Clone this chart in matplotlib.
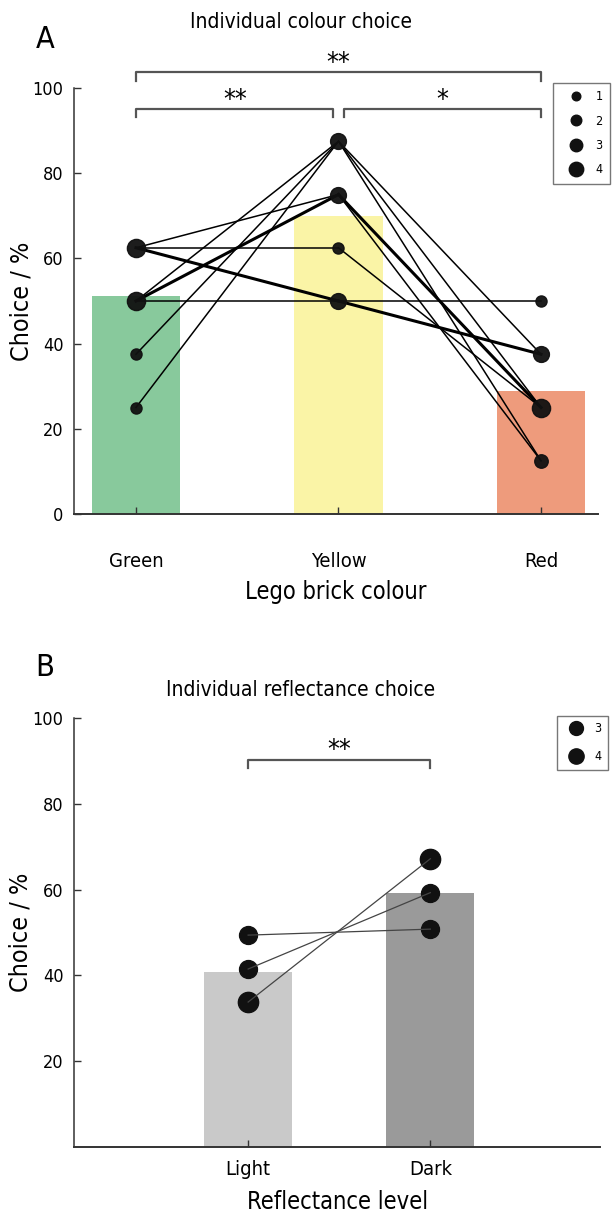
import numpy as np
import matplotlib
matplotlib.use('Agg')
import matplotlib.pyplot as plt
from matplotlib.lines import Line2D
from collections import Counter

plt.rcParams['font.family'] = ['DejaVu Sans']
plt.rcParams['font.stretch'] = 'condensed'

# ---- dados painel A (cada abelha: verde, amarelo, vermelho) ----
colours = ['Green', 'Yellow', 'Red']
bar_colours_a = ['#88c99c', '#faf4a6', '#ee9b7c']
mean_choice_a = [51.2, 70.0, 28.8]
bee_green = [62.5, 62.5, 62.5, 62.5, 50, 50, 50, 50, 37.5, 25]
bee_yellow = [75, 62.5, 50, 50, 87.5, 75, 75, 50, 87.5, 87.5]
bee_red = [25, 25, 37.5, 37.5, 12.5, 25, 12.5, 50, 37.5, 25]

# ---- dados painel B ----
levels = ['Light', 'Dark']
bar_colours_b = ['#c9c9c9', '#9a9a9a']
mean_choice_b = [40.8, 59.2]
group_light = [49.4, 41.5, 33.8]
group_dark = [50.8, 59.3, 67.2]
group_n = [3, 3, 4]


def msize(n):
    return 6.3 + 1.7 * n


fig = plt.figure(figsize=(6.14, 12.16), dpi=100)


def style_axes(ax):
    for s in ['top', 'right']:
        ax.spines[s].set_visible(False)
    ax.spines['left'].set_color('#333333')
    ax.spines['bottom'].set_color('#333333')
    ax.spines['left'].set_linewidth(1.1)
    ax.spines['bottom'].set_linewidth(1.4)
    ax.tick_params(direction='in', length=5, width=1, color='#333333')
    ax.tick_params(axis='y', labelsize=13, pad=7.5)
    ax.tick_params(axis='x', labelsize=14.5)


def bracket(ax, x0, x1, y, drop, text):
    ax.plot([x0, x0, x1, x1], [y - drop, y, y, y - drop], color='#555555', lw=1.6, clip_on=False)
    ax.text((x0 + x1) / 2, y - 1.0, text, ha='center', va='bottom', fontsize=19, clip_on=False)


# ================= Painel A =================
axA = fig.add_axes([0.1205, 0.5773, 0.853, 0.3503])
style_axes(axA)
xa = np.arange(1, 4)
axA.bar(xa, mean_choice_a, width=0.435, color=bar_colours_a, zorder=1)

seg_count = Counter()
pt_count = Counter()
for g, yv, r in zip(bee_green, bee_yellow, bee_red):
    seg_count[(1, g, 2, yv)] += 1
    seg_count[(2, yv, 3, r)] += 1
    pt_count[(1, g)] += 1
    pt_count[(2, yv)] += 1
    pt_count[(3, r)] += 1

for (x0, y0, x1, y1), n in seg_count.items():
    axA.plot([x0, x1], [y0, y1], color='black', lw=1.1 * n, zorder=2)
for (x, y), n in pt_count.items():
    axA.plot(x, y, 'o', color='#111111', ms=msize(n), alpha=0.95, zorder=3)

axA.set_xlim(0.694, 3.28)
axA.set_ylim(0, 100)
axA.set_yticks(range(0, 101, 20))
axA.set_xticks(xa)
axA.set_xticklabels(colours)
axA.tick_params(axis='x', pad=27)
axA.set_xlabel('Lego brick colour', fontsize=17, labelpad=7)
axA.set_ylabel('Choice / %', fontsize=18)
axA.yaxis.set_label_coords(-0.078, 0.5)

bracket(axA, 1, 3, 103.7, 2.1, '**')
bracket(axA, 1, 1.975, 95.0, 1.8, '**')
bracket(axA, 2.025, 3, 95.0, 1.8, '*')

handles_a = [Line2D([], [], ls='none', marker='o', color='#111111', ms=4.8 + 1.4 * n) for n in range(1, 5)]
legA = axA.legend(handles_a, ['1', '2', '3', '4'], loc='upper left',
                  bbox_to_anchor=(553 / 614, 1 - 83 / 1216), bbox_transform=fig.transFigure,
                  fontsize=9, frameon=True, fancybox=False, edgecolor='#555555', borderaxespad=0,
                  handlelength=2.4, handletextpad=0.4, labelspacing=0.9, borderpad=0.6)
legA.get_frame().set_linewidth(1.0)

fig.text(0.49, 1 - 22 / 1216, 'Individual colour choice', ha='center', va='center', fontsize=15)
fig.text(45 / 614, 1 - 40 / 1216, 'A', ha='center', va='center', fontsize=22)

# ================= Painel B =================
axB = fig.add_axes([0.1205, 0.0567, 0.8575, 0.3528])
style_axes(axB)
xb = np.arange(1, 3)
axB.bar(xb, mean_choice_b, width=0.484, color=bar_colours_b, zorder=1)
for l, d, n in zip(group_light, group_dark, group_n):
    axB.plot([1, 2], [l, d], 'o', color='#111111', ms=msize(n) + 1.5, zorder=2)
    axB.plot([1, 2], [l, d], '-', color='#444444', lw=0.9, zorder=3)

axB.set_xlim(0.044, 2.934)
axB.set_ylim(0, 100)
axB.set_yticks(range(20, 101, 20))
axB.set_xticks(xb)
axB.set_xticklabels(levels)
axB.tick_params(axis='x', pad=9)
axB.set_xlabel('Reflectance level', fontsize=17, labelpad=8)
axB.set_ylabel('Choice / %', fontsize=18)
axB.yaxis.set_label_coords(-0.078, 0.5)

bracket(axB, 1, 2, 90.2, 1.9, '**')

handles_b = [Line2D([], [], ls='none', marker='o', color='#111111', ms=10 + n) for n in range(0, 2)]
legB = axB.legend(handles_b, ['3', '4'], loc='upper left',
                  bbox_to_anchor=(557 / 614, 1 - 716 / 1216), bbox_transform=fig.transFigure,
                  fontsize=9, frameon=True, fancybox=False, edgecolor='#555555', borderaxespad=0,
                  handlelength=2.0, handletextpad=0.5, labelspacing=1.2, borderpad=0.5)
legB.get_frame().set_linewidth(1.0)

fig.text(0.49, 1 - 690 / 1216, 'Individual reflectance choice', ha='center', va='center', fontsize=15)
fig.text(45 / 614, 1 - 668 / 1216, 'B', ha='center', va='center', fontsize=22)

fig.savefig('out.png', dpi=100)
